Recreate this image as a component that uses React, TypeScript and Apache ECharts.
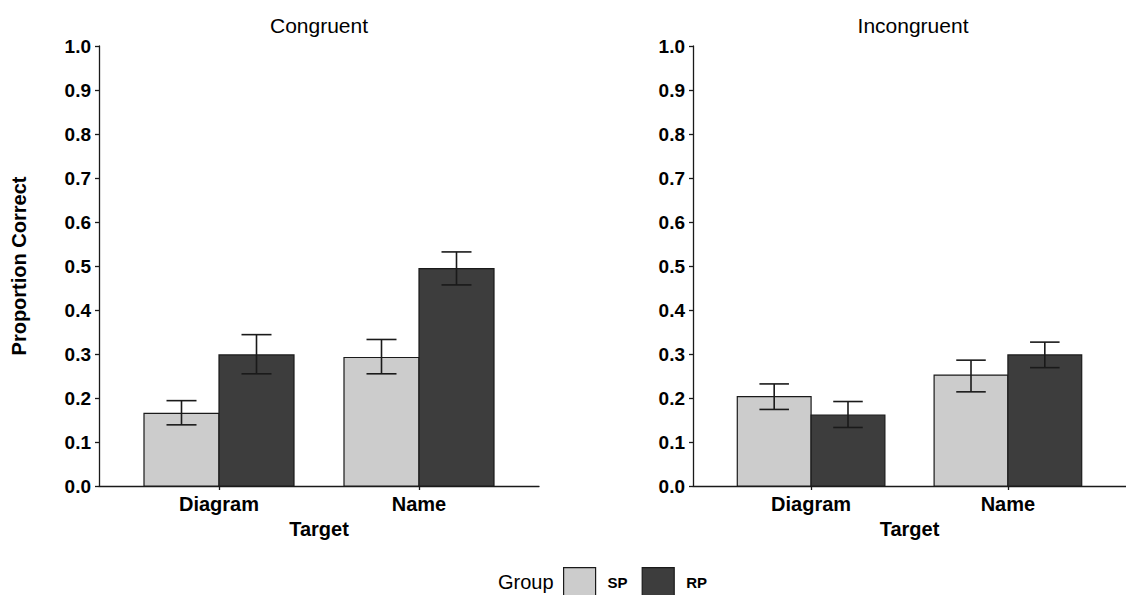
import React, { useEffect, useRef } from "react";
import * as echarts from "echarts";

// Target categories on the x axis and panel titles
const targets = ["Diagram", "Name"];
const panels = ["Congruent", "Incongruent"];
const groups = ["SP", "RP"];
const yTicks = [0, 0.1, 0.2, 0.3, 0.4, 0.5, 0.6, 0.7, 0.8, 0.9, 1.0];

// Proportion correct (mean) per target, per group, per panel
const congruentSP = [0.165, 0.292];
const congruentRP = [0.298, 0.494];
const incongruentSP = [0.203, 0.252];
const incongruentRP = [0.161, 0.298];

// Error bar bounds
const congruentSPLow = [0.139, 0.255];
const congruentSPHigh = [0.194, 0.333];
const congruentRPLow = [0.255, 0.457];
const congruentRPHigh = [0.344, 0.532];
const incongruentSPLow = [0.174, 0.214];
const incongruentSPHigh = [0.232, 0.286];
const incongruentRPLow = [0.133, 0.269];
const incongruentRPHigh = [0.192, 0.327];

const FONT = "'Liberation Sans', Arial, Helvetica, sans-serif";
const SP_FILL = "#cccccc";
const RP_FILL = "#3d3d3d";
const INK = "#1a1a1a";
const BAR_HALF = 0.1875; // each dodged bar is 0.375 units wide
const CAP_HALF = 0.075;

function rows(means: number[], lows: number[], highs: number[]) {
  return means.map((m, i) => [i + 1, m, lows[i], highs[i]]);
}

function makeRender(offset: number, fill: string) {
  return (params: any, api: any) => {
    const x = api.value(0) + offset;
    const v = api.value(1);
    const lo = api.value(2);
    const hi = api.value(3);
    const tl = api.coord([x - BAR_HALF, v]);
    const br = api.coord([x + BAR_HALF, 0]);
    const top = api.coord([x, hi]);
    const bot = api.coord([x, lo]);
    const capL = api.coord([x - CAP_HALF, hi])[0];
    const capR = api.coord([x + CAP_HALF, hi])[0];
    const lineStyle = { stroke: INK, lineWidth: 1.6 };
    return {
      type: "group",
      children: [
        {
          type: "rect",
          shape: { x: tl[0], y: tl[1], width: br[0] - tl[0], height: br[1] - tl[1] },
          style: { fill, stroke: INK, lineWidth: 1.2 },
        },
        { type: "line", shape: { x1: top[0], y1: top[1], x2: bot[0], y2: bot[1] }, style: lineStyle },
        { type: "line", shape: { x1: capL, y1: top[1], x2: capR, y2: top[1] }, style: lineStyle },
        { type: "line", shape: { x1: capL, y1: bot[1], x2: capR, y2: bot[1] }, style: lineStyle },
      ],
    };
  };
}

function xAxisFor(gridIndex: number) {
  return {
    type: "value",
    gridIndex,
    min: 0.4,
    max: 2.6,
    name: "Target",
    nameLocation: "middle",
    nameGap: 32,
    nameTextStyle: { fontFamily: FONT, fontWeight: "bold", fontSize: 20, color: "#000" },
    splitLine: { show: false },
    axisLine: { show: true, onZero: false, lineStyle: { color: INK, width: 1.3 } },
    axisTick: { show: true, length: 4, customValues: [1, 2], lineStyle: { color: INK, width: 1.3 } },
    axisLabel: {
      customValues: [1, 2],
      margin: 8,
      formatter: (v: number) => targets[Math.round(v) - 1] ?? "",
      fontFamily: FONT,
      fontWeight: "bold",
      fontSize: 20,
      color: "#000",
    },
  };
}

function yAxisFor(gridIndex: number, withName: boolean) {
  return {
    type: "value",
    gridIndex,
    min: yTicks[0],
    max: yTicks[yTicks.length - 1],
    interval: 0.1,
    name: withName ? "Proportion Correct" : "",
    nameLocation: "middle",
    nameGap: 70,
    nameTextStyle: { fontFamily: FONT, fontWeight: "bold", fontSize: 20, color: "#000" },
    splitLine: { show: false },
    axisLine: { show: true, onZero: false, lineStyle: { color: INK, width: 1.3 } },
    axisTick: { show: true, length: 4, lineStyle: { color: INK, width: 1.3 } },
    axisLabel: {
      margin: 8,
      formatter: (v: number) => v.toFixed(1),
      fontFamily: FONT,
      fontWeight: "bold",
      fontSize: 19,
      color: "#000",
    },
  };
}

export default function App() {
  const ref = useRef<HTMLDivElement>(null);

  useEffect(() => {
    if (!ref.current) return;
    const chart = echarts.init(ref.current, null, { renderer: "svg" });

    const panelData = [
      { sp: rows(congruentSP, congruentSPLow, congruentSPHigh), rp: rows(congruentRP, congruentRPLow, congruentRPHigh) },
      { sp: rows(incongruentSP, incongruentSPLow, incongruentSPHigh), rp: rows(incongruentRP, incongruentRPLow, incongruentRPHigh) },
    ];

    const series: any[] = [];
    panelData.forEach((p, i) => {
      series.push({
        type: "custom",
        name: groups[0],
        xAxisIndex: i,
        yAxisIndex: i,
        itemStyle: { color: SP_FILL },
        renderItem: makeRender(-BAR_HALF, SP_FILL),
        data: p.sp,
        clip: false,
      });
      series.push({
        type: "custom",
        name: groups[1],
        xAxisIndex: i,
        yAxisIndex: i,
        itemStyle: { color: RP_FILL },
        renderItem: makeRender(BAR_HALF, RP_FILL),
        data: p.rp,
        clip: false,
      });
    });

    chart.setOption({
      animation: false,
      backgroundColor: "#ffffff",
      grid: [
        { left: 99, top: 46, width: 440, height: 440 },
        { left: 693, top: 46, width: 440, height: 440 },
      ],
      xAxis: [xAxisFor(0), xAxisFor(1)],
      yAxis: [yAxisFor(0, true), yAxisFor(1, false)],
      legend: {
        left: 563,
        top: 567,
        padding: 0,
        itemWidth: 32,
        itemHeight: 30,
        itemGap: 14,
        selectedMode: false,
        formatter: (name: string) => "{s|}" + name,
        data: [
          { name: groups[0], icon: "rect", itemStyle: { color: SP_FILL, borderColor: INK, borderWidth: 1.2 } },
          { name: groups[1], icon: "rect", itemStyle: { color: RP_FILL, borderColor: INK, borderWidth: 1.2 } },
        ],
        textStyle: {
          fontFamily: FONT,
          fontWeight: "bold",
          fontSize: 15,
          color: "#000",
          rich: { s: { width: 7 } },
        },
      },
      graphic: [
        {
          type: "text",
          x: 319,
          y: 25,
          style: { text: panels[0], fill: "#000", font: `21px ${FONT}`, textAlign: "center", textVerticalAlign: "middle" },
        },
        {
          type: "text",
          x: 913,
          y: 25,
          style: { text: panels[1], fill: "#000", font: `21px ${FONT}`, textAlign: "center", textVerticalAlign: "middle" },
        },
        {
          type: "text",
          x: 498,
          y: 582,
          style: { text: "Group", fill: "#000", font: `20px ${FONT}`, textAlign: "left", textVerticalAlign: "middle" },
        },
      ],
      series,
    });

    return () => chart.dispose();
  }, []);

  return (
    <div
      ref={ref}
      style={{ position: "fixed", left: 0, top: 0, width: 1126, height: 595, background: "#fff" }}
    />
  );
}
